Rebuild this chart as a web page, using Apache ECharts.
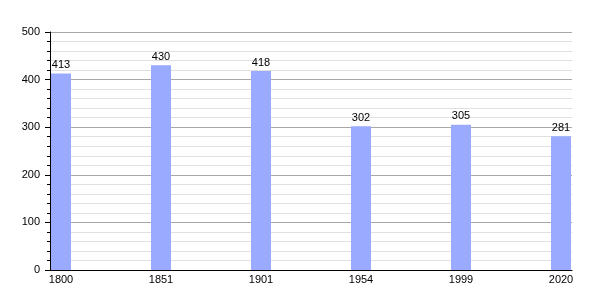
<!DOCTYPE html>
<html>
<head>
<meta charset="utf-8">
<script src="https://cdn.jsdelivr.net/npm/echarts@6/dist/echarts.min.js"></script>
<style>
html,body{margin:0;padding:0;background:#fff;}
#chart{width:600px;height:300px;}
</style>
</head>
<body>
<div id="chart"></div>
<script>
const years = ['1800', '1851', '1901', '1954', '1999', '2020'];
const population = [413, 430, 418, 302, 305, 281];
const yMin = 0;
const yMax = 500;
const yStep = 100;

const chart = echarts.init(document.getElementById('chart'), null, {renderer: 'canvas'});
const font = 'Liberation Sans, Arial, sans-serif';
chart.setOption({
  animation: false,
  backgroundColor: '#ffffff',
  grid: [
    {left: 50, right: 28, top: 32, bottom: 30},
    {left: 61, right: 39, top: 32, bottom: 30}
  ],
  xAxis: [
    {
      gridIndex: 0, type: 'value', min: 0, max: 1,
      axisLine: {show: true, lineStyle: {color: '#000', width: 1}},
      axisTick: {show: false}, axisLabel: {show: false}, splitLine: {show: false}
    },
    {
      gridIndex: 1, type: 'category', data: years, boundaryGap: false,
      axisLine: {show: false}, axisTick: {show: false},
      axisLabel: {color: '#000', fontSize: 11, fontFamily: font, margin: 4, interval: 0}
    }
  ],
  yAxis: [
    {
      gridIndex: 0, type: 'value', min: yMin, max: yMax, interval: yStep,
      axisLine: {show: true, lineStyle: {color: '#000', width: 1}},
      axisTick: {show: true, length: 5, lineStyle: {color: '#000'}},
      minorTick: {show: true, splitNumber: 5, length: 3, lineStyle: {color: '#000'}},
      axisLabel: {color: '#000', fontSize: 11, fontFamily: font, margin: 10},
      splitLine: {show: true, lineStyle: {color: '#a8a8a8', width: 1}},
      minorSplitLine: {show: true, lineStyle: {color: '#e0e0e0', width: 1}}
    },
    {
      gridIndex: 1, type: 'value', min: yMin, max: yMax, interval: yStep, show: false
    }
  ],
  series: [{
    type: 'bar',
    xAxisIndex: 1, yAxisIndex: 1,
    data: population,
    barWidth: 20,
    clip: false,
    itemStyle: {color: '#99aaff'},
    label: {show: true, position: 'top', distance: 3, color: '#000', fontSize: 11, fontFamily: font}
  }]
});
</script>
</body>
</html>
